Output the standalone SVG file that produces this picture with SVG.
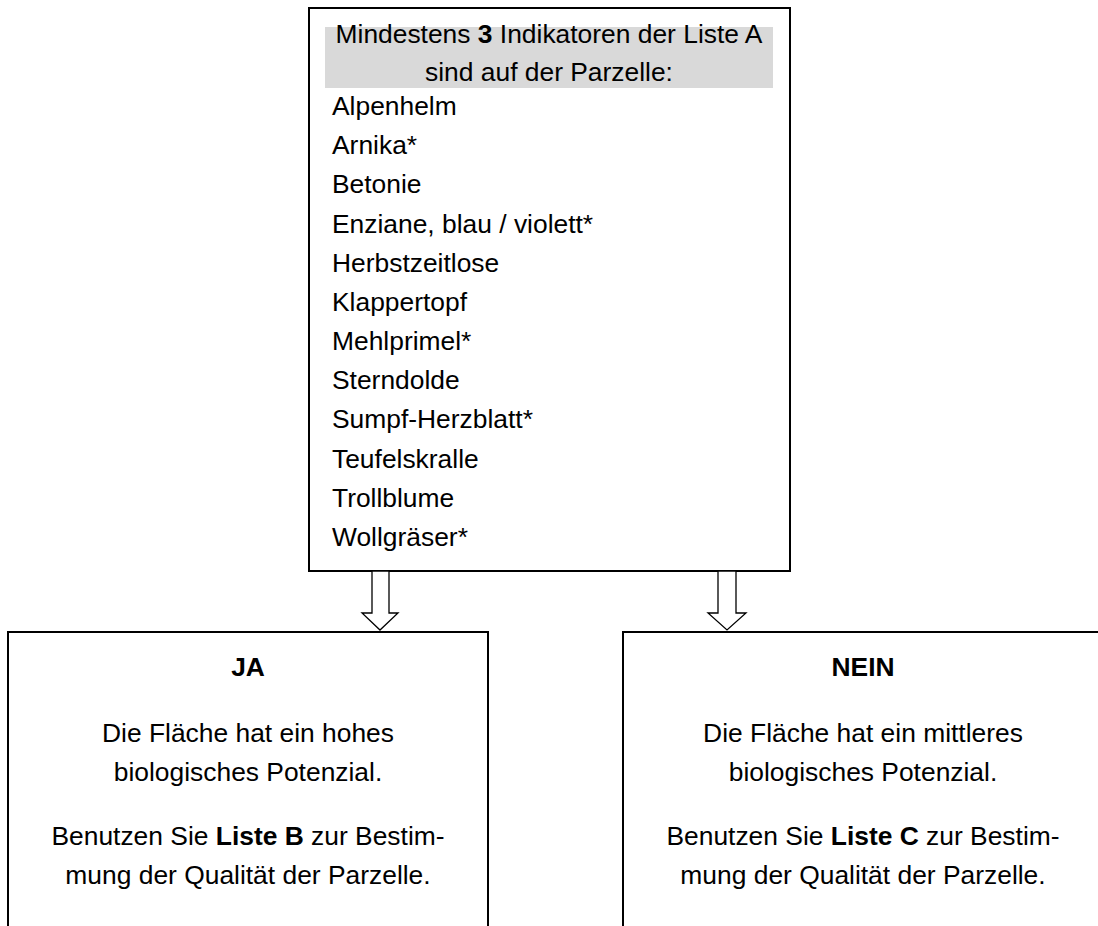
<svg xmlns="http://www.w3.org/2000/svg" width="1098" height="926" viewBox="0 0 1098 926">
<style>
.box{fill:#fff;stroke:#000;stroke-width:2}
.arr{fill:#fff;stroke:#000;stroke-width:1.3;stroke-linejoin:miter}
text{font-family:"Liberation Sans",Arial,sans-serif;font-size:26.4px;fill:#000}
.c{text-anchor:middle}
.b{font-weight:bold}
</style>
<rect width="1098" height="926" fill="#fff"/>
<g id="node-top">
<rect class="box" x="309" y="8" width="481" height="563"/>
<rect x="325" y="27" width="448" height="61" fill="#d9d9d9"/>
<text class="c" x="549" y="43">Mindestens <tspan class="b">3</tspan> Indikatoren der Liste A</text>
<text class="c" x="549" y="81">sind auf der Parzelle:</text>
<text x="332" y="115">Alpenhelm</text>
<text x="332" y="154">Arnika*</text>
<text x="332" y="193">Betonie</text>
<text x="332" y="233">Enziane, blau / violett*</text>
<text x="332" y="272">Herbstzeitlose</text>
<text x="332" y="311">Klappertopf</text>
<text x="332" y="350">Mehlprimel*</text>
<text x="332" y="389">Sterndolde</text>
<text x="332" y="428">Sumpf-Herzblatt*</text>
<text x="332" y="468">Teufelskralle</text>
<text x="332" y="507">Trollblume</text>
<text x="332" y="546">Wollgräser*</text>
</g>
<g id="connectors">
<polygon class="arr" points="372,571 372,613 362,613 380,630 398,613 389,613 389,571"/>
<polygon class="arr" points="718,571 718,613 708,613 727,630 746,613 736,613 736,571"/>
</g>
<g id="node-ja">
<path class="box" d="M8,940 V632 H488 V940"/>
<text class="c b" x="248" y="676">JA</text>
<text class="c" x="248" y="742">Die Fläche hat ein hohes</text>
<text class="c" x="248" y="781">biologisches Potenzial.</text>
<text class="c" x="248" y="845">Benutzen Sie <tspan class="b">Liste B</tspan> zur Bestim-</text>
<text class="c" x="248" y="884">mung der Qualität der Parzelle.</text>
</g>
<g id="node-nein">
<path class="box" d="M623,940 V632 H1110"/>
<text class="c b" x="863" y="676">NEIN</text>
<text class="c" x="863" y="742">Die Fläche hat ein mittleres</text>
<text class="c" x="863" y="781">biologisches Potenzial.</text>
<text class="c" x="863" y="845">Benutzen Sie <tspan class="b">Liste C</tspan> zur Bestim-</text>
<text class="c" x="863" y="884">mung der Qualität der Parzelle.</text>
</g>
</svg>
